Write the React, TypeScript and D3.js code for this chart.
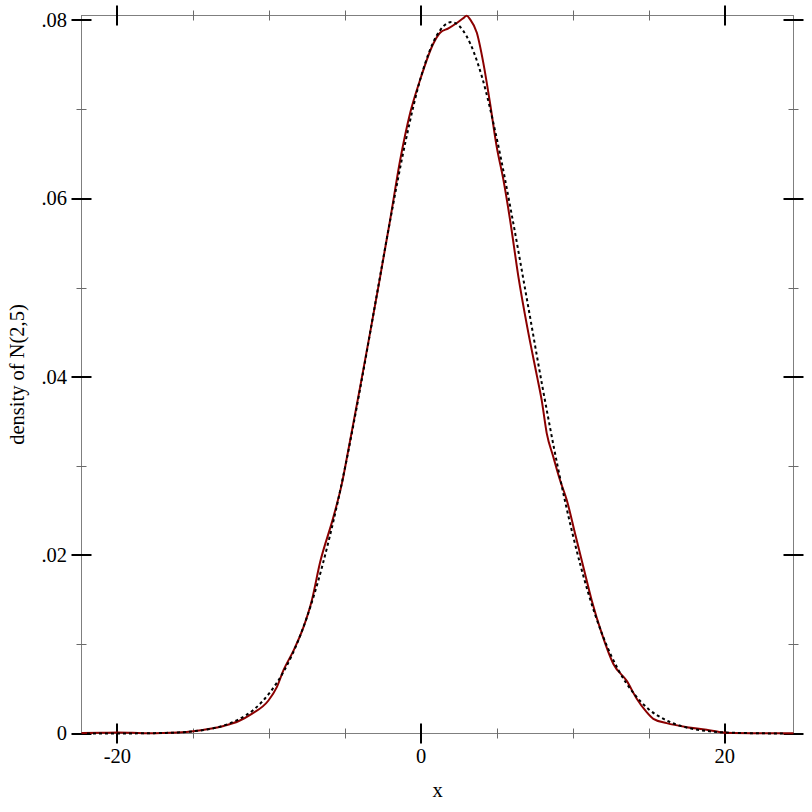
import React, { useRef, useEffect } from 'react';
import * as d3 from 'd3';

// x extent of the plot
const xExtent = [-22.36, 24.52];
const yMax = 0.08054;

// dashed reference curve: density of N(2,5)
const normX = [-22, -21, -20, -19, -18, -17, -16, -15, -14, -13, -12, -11, -10, -9, -8, -7, -6, -5, -4, -3, -2, -1,
  0, 1, 2, 3, 4, 5, 6, 7, 8, 9, 10, 11, 12, 13, 14, 15, 16, 17, 18, 19, 20, 21, 22, 23, 24];
const normY = [0, 0, 0, 0.00001, 0.00003, 0.00006, 0.00012, 0.00025, 0.00048, 0.00089, 0.0016, 0.0027, 0.0045,
  0.0071, 0.0108, 0.0158, 0.0222, 0.0299, 0.0388, 0.0484, 0.0579, 0.0666, 0.0737, 0.0782, 0.0798, 0.0782, 0.0737,
  0.0666, 0.0579, 0.0484, 0.0388, 0.0299, 0.0222, 0.0158, 0.0108, 0.0071, 0.0045, 0.0027, 0.0016, 0.00089,
  0.00048, 0.00025, 0.00012, 0.00006, 0.00003, 0.00001, 0];

// solid red curve: estimated density from samples
const kdeX = [-22.36, -21, -20, -19, -18, -17, -16, -15, -14, -13, -12, -11.15, -10.05, -9.5, -9.06, -8.4, -7.75,
  -7.2, -6.65, -5.77, -5.22, -4.79, -4.0, -3.3, -2.7, -2.04, -1.38, -0.72, -0.07, 0.81, 1.25, 1.8, 2.35, 2.75, 3.0,
  3.23, 3.67, 4.1, 4.54, 4.98, 5.42, 5.86, 6.41, 7.0, 7.64, 7.94, 8.27, 8.71, 9.15, 9.59, 10.14, 10.68, 11.24,
  11.9, 12.66, 13.54, 14.2, 14.8, 15.29, 16.17, 17.49, 18.8, 19.7, 20.5, 22, 24.52];
const kdeY = [0.00005, 0.00008, 0.00012, 0.00008, 0.00003, 0.00005, 0.00012, 0.00026, 0.0005, 0.00085, 0.0014,
  0.0022, 0.0037, 0.0052, 0.0071, 0.0093, 0.0119, 0.0149, 0.0192, 0.0243, 0.028, 0.0318, 0.039, 0.0455, 0.0512,
  0.0576, 0.0643, 0.0696, 0.0733, 0.0774, 0.0786, 0.0791, 0.0797, 0.0802, 0.0805, 0.0801, 0.0786, 0.0752, 0.0707,
  0.0658, 0.0621, 0.0576, 0.0512, 0.0455, 0.04, 0.0374, 0.0337, 0.031, 0.0284, 0.0262, 0.0224, 0.0187, 0.0149,
  0.0112, 0.0078, 0.0059, 0.0039, 0.0025, 0.00165, 0.00116, 0.00071, 0.00042, 0.00015, 0.00005, 0.00003, 0.00002];

const xMajor = [-20, 0, 20];
const xMinor = [-15, -10, -5, 5, 10, 15];
const yMajor = [0, 0.02, 0.04, 0.06, 0.08];
const yMajorLabels = ['0', '.02', '.04', '.06', '.08'];
const yMinor = [0.01, 0.03, 0.05, 0.07];

const xLabel = 'x';
const yLabel = 'density of N(2,5)';

function DensityChart() {
  const ref = useRef<SVGSVGElement>(null);

  useEffect(() => {
    const svg = d3.select(ref.current);
    svg.selectAll('*').remove();

    const width = 812, height = 812;
    const left = 81.5, right = 793.5, top = 15.5, bottom = 733.5;
    const font = '"Liberation Serif", "Times New Roman", serif';

    const x = d3.scaleLinear().domain(xExtent).range([left, right]);
    const y = d3.scaleLinear().domain([0, yMax]).range([bottom, top]);

    // frame
    const frame = svg.append('g').attr('stroke', '#7f7f7f').attr('stroke-width', 1).attr('fill', 'none');
    frame.append('rect').attr('x', left).attr('y', top).attr('width', right - left).attr('height', bottom - top);

    // x ticks on bottom and top
    [bottom, top].forEach((yy) => {
      svg.append('g').selectAll('line').data(xMinor).join('line')
        .attr('x1', (d) => Math.round(x(d)) + 0.5).attr('x2', (d) => Math.round(x(d)) + 0.5)
        .attr('y1', yy - 5).attr('y2', yy + 5)
        .attr('stroke', '#6a6a6a').attr('stroke-width', 1);
      svg.append('g').selectAll('line').data(xMajor).join('line')
        .attr('x1', (d) => Math.round(x(d))).attr('x2', (d) => Math.round(x(d)))
        .attr('y1', yy - 10).attr('y2', yy + 10)
        .attr('stroke', '#000').attr('stroke-width', 2);
    });

    // y ticks on left and right
    [left, right].forEach((xx) => {
      svg.append('g').selectAll('line').data(yMinor).join('line')
        .attr('y1', (d) => Math.round(y(d)) + 0.5).attr('y2', (d) => Math.round(y(d)) + 0.5)
        .attr('x1', xx - 5).attr('x2', xx + 5)
        .attr('stroke', '#6a6a6a').attr('stroke-width', 1);
      svg.append('g').selectAll('line').data(yMajor).join('line')
        .attr('y1', (d) => Math.round(y(d))).attr('y2', (d) => Math.round(y(d)))
        .attr('x1', xx - 10).attr('x2', xx + 10)
        .attr('stroke', '#000').attr('stroke-width', 2);
    });

    // tick labels
    svg.append('g').selectAll('text').data(xMajor).join('text')
      .attr('x', (d) => x(d)).attr('y', bottom + 29.5)
      .attr('text-anchor', 'middle')
      .attr('font-family', font).attr('font-size', 20.5)
      .text((d) => String(d));

    svg.append('g').selectAll('text').data(yMajor).join('text')
      .attr('x', 67).attr('y', (d) => y(d) + 6.7)
      .attr('text-anchor', 'end')
      .attr('font-family', font).attr('font-size', 20.5)
      .text((d, i) => yMajorLabels[i]);

    // curves
    const kde = kdeX.map((v, i) => [v, kdeY[i]] as [number, number]);
    const norm = normX.map((v, i) => [v, normY[i]] as [number, number]);
    const line = d3.line<[number, number]>()
      .x((d) => x(d[0]))
      .y((d) => y(d[1]))
      .curve(d3.curveMonotoneX);

    svg.append('path').datum(kde)
      .attr('fill', 'none').attr('stroke', '#8b0000').attr('stroke-width', 2)
      .attr('d', line);

    svg.append('path').datum(norm)
      .attr('fill', 'none').attr('stroke', '#000').attr('stroke-width', 2)
      .attr('stroke-dasharray', '3,3')
      .attr('d', line);

    // axis titles
    svg.append('text')
      .attr('x', (left + right) / 2).attr('y', 797)
      .attr('text-anchor', 'middle')
      .attr('font-family', font).attr('font-size', 20.5)
      .text(xLabel);

    svg.append('text')
      .attr('transform', `translate(24,${(top + bottom) / 2}) rotate(-90)`)
      .attr('text-anchor', 'middle')
      .attr('font-family', font).attr('font-size', 20.5)
      .text(yLabel);

    svg.attr('width', width).attr('height', height);
  }, []);

  return <svg ref={ref} style={{ position: 'absolute', left: 0, top: 0, display: 'block', background: '#fff' }}></svg>;
}

export default function App() {
  return <DensityChart />;
}
